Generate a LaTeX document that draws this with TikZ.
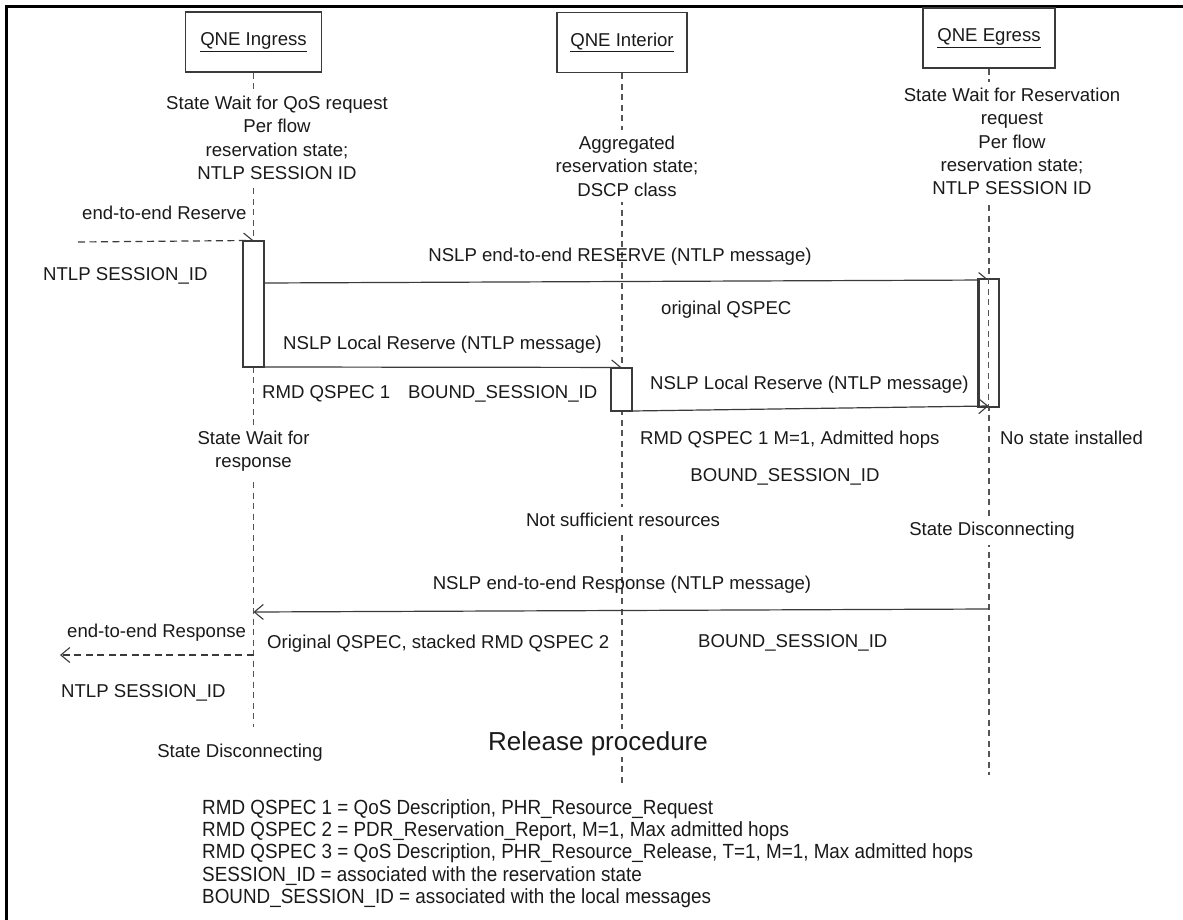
\documentclass[tikz,border=0pt]{standalone}
\usepackage{fontspec}
\setmainfont{Liberation Sans}
\newfontfamily\legendfont[FakeStretch=0.92]{Liberation Sans}
\usetikzlibrary{arrows.meta}
\definecolor{ink}{HTML}{1A1A1A}
\definecolor{wire}{HTML}{3A3A3A}
\definecolor{life}{HTML}{555555}
\newcommand{\bodysize}{\fontsize{18.6}{23.3}\selectfont}
\newcommand{\bigsize}{\fontsize{26}{30}\selectfont}
\newcommand{\keysize}{\legendfont\fontsize{20.5}{22.2}\selectfont}

\begin{document}
\begin{tikzpicture}[x=1pt,y=-1pt,
  lbl/.style={font=\bodysize, text=ink, inner sep=0pt},
  state/.style={lbl, align=center, fill=white, inner xsep=3pt, inner ysep=6pt},
  titlebox/.style={draw=wire, line width=1.4pt, font=\bodysize, text=ink,
    minimum height=60pt, inner sep=0pt},
  lifeline/.style={draw=life, line width=1.1pt, dash pattern=on 6pt off 4.5pt},
  actbox/.style={draw=wire, line width=1.1pt, fill=white, minimum width=21pt, inner sep=0pt},
  msg/.style={draw=wire, line width=1.2pt, -{Straight Barb[length=9pt,width=15pt,line width=1.1pt]}},
  extmsg/.style={msg, dash pattern=on 7pt off 4.5pt},
]
\useasboundingbox (0,0) rectangle (1183,920);

% frame
\draw[line width=3pt, black] (5,7) -- (1183,7);
\draw[line width=3pt, black] (6,5.5) -- (6,920);

% participants
\node[titlebox, minimum width=136pt] (tIn) at (253.5,42) {\underline{QNE Ingress}};
\node[titlebox, minimum width=130pt] (tInt) at (622,42.5) {\underline{QNE Interior}};
\node[titlebox, minimum width=132pt] (tEg) at (989,38) {\underline{QNE Egress}};

% lifeline ends
\coordinate (endIn) at (253.5,727);
\coordinate (endInt) at (622,786);
\coordinate (endEg) at (989,775);

\draw[lifeline] (tIn.south) -- (endIn);
\draw[lifeline] (tInt.south) -- (endInt);
\draw[lifeline] (tEg.south) -- (endEg);

% state annotations on the lifelines
\node[state, anchor=north] (sIn) at (277,90)
  {State Wait for QoS request\\Per flow\\reservation state;\\NTLP SESSION ID};
\node[state, anchor=north] (sInt) at (627,130)
  {Aggregated\\reservation state;\\DSCP class};
\node[state, anchor=north] (sEg) at (1012,82)
  {State Wait for Reservation\\request\\Per flow\\reservation state;\\NTLP SESSION ID};
\node[state, anchor=north] (sWait) at (253.5,425) {State Wait for\\response};
\node[state, anchor=base] (sNot) at (623,526.5) {Not sufficient resources};
\node[state, anchor=base] (sDisEg) at (992,535.5) {State Disconnecting};

% activation bars
\node[actbox, minimum height=126pt] (actIn) at (253.5,304) {};
\node[actbox, minimum height=43pt] (actInt) at (621.5,389.5) {};

% messages hidden in part by the activation bars
\coordinate (resvSrc) at (78,242);
\coordinate (e2eA) at (264,283);
\coordinate (e2eB) at (988.5,280);
\coordinate (locA) at (264,367);
\draw[extmsg] (resvSrc) -- (actIn.north);
\draw[msg] (e2eA) -- (e2eB);
\draw[msg] (locA) -- (actInt.north);

% redraw the bars above the message tips
\node[actbox, minimum height=126pt] at (253.5,304) {};
\node[actbox, minimum height=43pt] at (621.5,389.5) {};
\node[actbox, minimum height=128pt] (actEg) at (988.5,343) {};
\draw[draw=wire, line width=1pt] ([xshift=2.5pt]actEg.north west) -- ([xshift=2.5pt]actEg.south west);
\draw[lifeline] (actEg.north) -- (actEg.south);

% remaining messages
\coordinate (loc2A) at (632,411);
\coordinate (loc2B) at (988.5,406);
\coordinate (respA) at (989,609);
\coordinate (respB) at (253.5,612);
\coordinate (extOut) at (60,655);
\coordinate (extIn) at (253.5,655);
\draw[msg] (loc2A) -- (loc2B);
\draw[msg] (respA) -- (respB);
\draw[extmsg] (extIn) -- (extOut);

% message labels
\node[lbl, anchor=base west] (l1) at (82,219.5) {end-to-end Reserve};
\node[lbl, anchor=base west] (l2) at (43,280.5) {NTLP SESSION\_ID};
\node[lbl, anchor=base] (l3) at (620,261.5) {NSLP end-to-end RESERVE (NTLP message)};
\node[lbl, anchor=base west] (l4) at (661,314.5) {original QSPEC};
\node[lbl, anchor=base west] (l5) at (283,349.5) {NSLP Local Reserve (NTLP message)};
\node[lbl, anchor=base west] (l6) at (262,398.5) {RMD QSPEC 1};
\node[lbl, anchor=base west] (l7) at (408,398.5) {BOUND\_SESSION\_ID};
\node[lbl, anchor=base west] (l8) at (650,389.5) {NSLP Local Reserve (NTLP message)};
\node[lbl, anchor=base west] (l9) at (640,444.5) {RMD QSPEC 1 M=1, Admitted hops};
\node[lbl, anchor=base west] (l10) at (1000,444.5) {No state installed};
\node[lbl, anchor=base] (l11) at (785,481.5) {BOUND\_SESSION\_ID};
\node[lbl, anchor=base] (l12) at (622,589.5) {NSLP end-to-end Response (NTLP message)};
\node[lbl, anchor=base west] (l13) at (67,637.5) {end-to-end Response};
\node[lbl, anchor=base west] (l14) at (267,648.5) {Original QSPEC, stacked RMD QSPEC 2};
\node[lbl, anchor=base west] (l15) at (698,647.5) {BOUND\_SESSION\_ID};
\node[lbl, anchor=base west] (l16) at (61,697.5) {NTLP SESSION\_ID};
\node[lbl, anchor=base] (sDisIn) at (240,757.5) {State Disconnecting};
\node[lbl, font=\bigsize, anchor=base west, fill=white, inner sep=2pt] (rel) at (486,750) {Release procedure};

% legend
\node[lbl, font=\keysize, align=left, anchor=north west] (key) at (202,799.5)
  {RMD QSPEC 1 = QoS Description, PHR\_Resource\_Request\\
   RMD QSPEC 2 = PDR\_Reservation\_Report, M=1, Max admitted hops\\
   RMD QSPEC 3 = QoS Description, PHR\_Resource\_Release, T=1, M=1, Max admitted hops\\
   SESSION\_ID = associated with the reservation state\\
   BOUND\_SESSION\_ID = associated with the local messages};
\end{tikzpicture}
\end{document}
